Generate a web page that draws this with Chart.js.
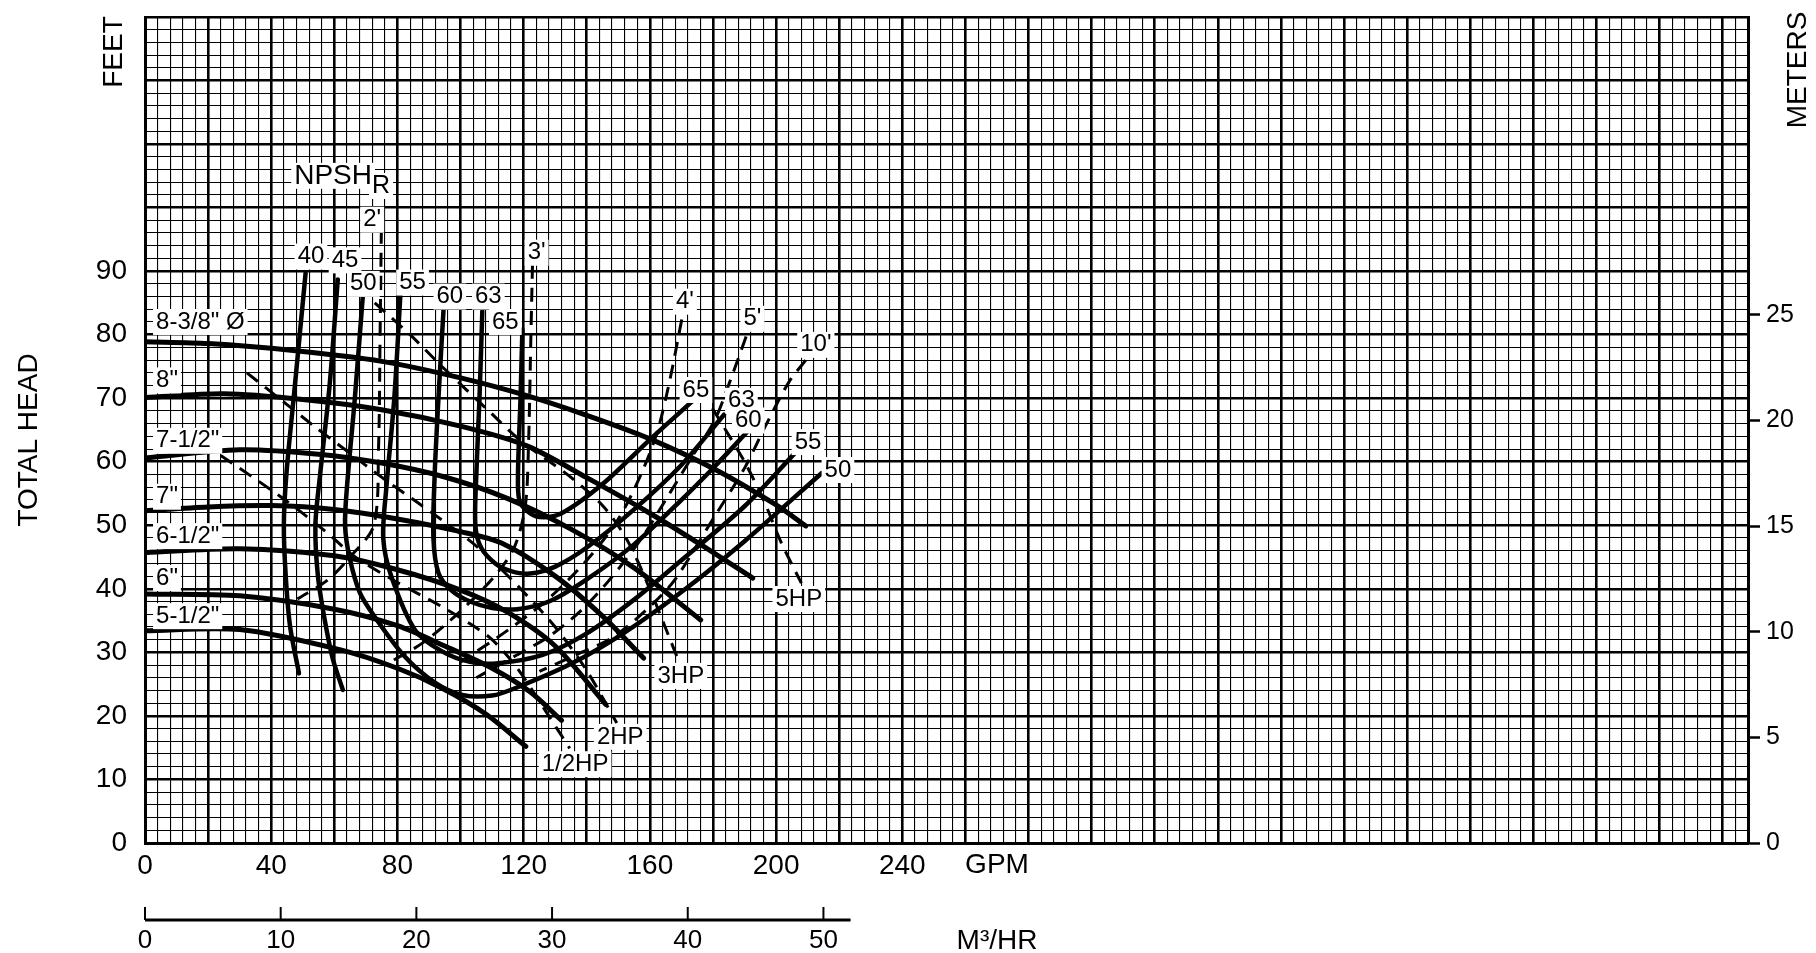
<!DOCTYPE html>
<html>
<head>
<meta charset="utf-8">
<title>Pump performance curves</title>
<script src="https://cdn.jsdelivr.net/npm/chart.js@4.4.1/dist/chart.umd.min.js"></script>
<style>
  html, body { margin: 0; padding: 0; background: #fff; }
  #wrap { width: 1816px; height: 953px; }
</style>
</head>
<body>
<div id="wrap"><canvas id="pumpChart" width="1816" height="953"></canvas></div>
<script>
// ---- axes ----
const gpmMax = 508;
const feetMax = 130;
const gpmLabels = [0, 40, 80, 120, 160, 200, 240];
const feetLabels = [0, 10, 20, 30, 40, 50, 60, 70, 80, 90];
const meterLabels = [0, 5, 10, 15, 20, 25];
const m3hrLabels = [0, 10, 20, 30, 40, 50];
const m3hrEnd = 52;
const meterMax = 39.1;        // meter scale as printed beside the feet grid
const GPM_PER_M3HR = 4.3;     // as printed on the sheet

// ---- impeller head curves [gpm, ft] ----
const head838 = [[0,78.9],[20,78.6],[47,77.5],[75,75.8],[100,73.2],[121,70.4],[140,67.3],[160,63.6],[181,58.7],[200,53.2],[209.4,49.9]];
const head800 = [[0,70.1],[25,70.7],[50,69.8],[75,68.2],[100,65.6],[121,62.5],[140,57.5],[160,51.9],[176,47],[192.6,41.7]];
const head750 = [[0,60.6],[30,61.9],[55,61.2],[75,59.8],[95,57.6],[115,54.2],[135,49.4],[155,43.3],[176.1,35.1]];
const head700 = [[0,52.3],[20,52.9],[40,53.1],[60,52.5],[80,51],[100,49],[113,47.2],[130,42],[145,35.7],[158,29.1]];
const head650 = [[0,45.7],[30,46.3],[60,45.2],[80,43],[100,39.8],[115,36.3],[130,31],[146,21.8]];
const head600 = [[0,39.2],[30,38.9],[60,36.8],[80,34.2],[95,31],[110,27.5],[122,23.8],[132,19.3]];
const head550 = [[0,33.4],[30,33.6],[62,30.4],[80,27.5],[94,24.4],[108,20.3],[120.7,15.2]];

// ---- efficiency contours (%) ----
const eff40 = [[50.9,89.7],[47.5,72],[44.8,58],[44,50],[44.6,42],[46,34],[48.8,26.7]];
const eff45 = [[61.1,88.7],[58.5,72],[55.5,58],[54,50],[54.8,42],[57,35],[59.5,29],[62.7,24.1]];
const eff50 = [[69.1,86.6],[66.5,70],[64,56],[63.4,50],[64.8,45],[68,39.5],[72.8,35.6],[82.4,29.3],[92,25.2],[100.5,23.3],[110,23.2],[117.5,24.4],[135,28.2],[151.6,33],[170,39.5],[190,47.5],[214.4,58.2]];
const eff55 = [[81,86.9],[79,70],[76.5,56],[75.5,48],[78.1,41.9],[85.6,33.5],[94,30.2],[103,28.5],[112,28.3],[126,29.6],[140,33],[155,38.3],[170,44.5],[190,53],[206.4,61.6]];
const eff60 = [[94.6,83.9],[93,70],[91.8,58],[91.4,48],[93,42.5],[97,39.8],[103,38],[110,37],[118,36.8],[128,38],[140,41.5],[155,47],[170,54],[181,59.5],[191,64.8]];
const eff63 = [[106.9,83.7],[106,70],[105,58],[104.7,50],[106.5,46.5],[111,44],[116,42.8],[122,42.4],[130,43.5],[140,46.5],[155,52.5],[170,59.5],[183.5,67.4]];
const eff65 = [[119.6,80.8],[119,70],[118.2,58],[118.6,54],[121,52.3],[125,51.3],[132,51.9],[145,56.5],[160,63.5],[173.4,69.5]];

// ---- NPSHR lines (ft) ----
const npsh2 = [[74.9,96.5],[74.5,80],[74,62],[72.5,50],[65,45],[57.9,41.4],[48.3,38.4]];
const npsh3 = [[122.8,91],[122.3,80],[121.5,62],[120.5,53],[117,46.5],[110.6,41.9],[100,36.5],[88,31.5],[76,28]];
const npsh4 = [[170.1,82.4],[166,72.1],[162.2,64.5],[156.9,57.7],[150,51],[140,44.5],[128,38.5],[115,33.5],[100,28.5]];
const npsh5 = [[190.5,79.7],[186,73.5],[180.5,66.5],[173,60.5],[165,54],[157,47.7],[147,41.3],[138,36.5],[128,32.5],[117.5,29.5],[105,26]];
const npsh10 = [[209.4,76],[204,72.5],[197,66],[190,59],[180,51],[168,41.5],[160,37.2],[148,32.3],[136,29.5],[125,27]];

// ---- horsepower lines ----
const hpHalf = [[24,61],[43,54.5],[57.3,49],[66.4,45.1],[80,41],[93,37.5],[103,34.5],[110,32],[118,27.5],[126,21.5],[134.6,14.9]];
const hp2 = [[32.3,74],[45,69],[53.6,65.6],[62.1,62.4],[76,57.2],[86.6,53.5],[102.6,47.7],[111,44],[120,39.5],[130,34],[139.9,27.2],[149.5,18.9]];
const hp3 = [[72.8,85],[84,80],[94.1,75],[110,67.5],[118.6,63.5],[134.6,57.7],[145.2,53],[153,47.5],[160.1,39.8],[168.6,29.3]];
const hp5 = [[176,71.5],[184,65],[190,60],[196,54],[201.7,47.2],[208,40.9]];

// ---- label text and where it sits (gpm, ft) ----
const impellerNames = ['8-3/8" Ø', '8"', '7-1/2"', '7"', '6-1/2"', '6"', '5-1/2"'];
const impellerNameAt = [[3.5,82],[3.5,72.8],[3.5,63.3],[3.5,54.5],[3.5,48.3],[3.5,41.7],[3.5,35.7]];
const effNames = ['40','45','50','55','60','63','65','65','63','60','55','50'];
const effNameAt = [[52.6,92.3],[63.4,91.7],[69.2,88],[84.8,88.2],[96.6,86],[108.8,86],[114.2,82],
                   [174.6,71.3],[189,69.6],[191.2,66.5],[210.1,63.1],[219.6,58.7]];
const npshNames = ["2'", "3'", "4'", "5'", "10'"];
const npshNameAt = [[72,98.1],[124.1,92.9],[171.1,85.2],[192.5,82.5],[212.6,78.4]];
const hpNames = ['5HP', '3HP', '2HP', '1/2HP'];
const hpNameAt = [[207.2,38.4],[169.8,26.3],[150.6,16.7],[136.3,12.4]];

const FONT = '"Liberation Sans", Arial, sans-serif';

function toPts(arr) {
    return arr.map(p => ({ x: p[0], y: p[1] }));
}

const datasets = [];
function addCurve(arr, width, dash) {
    datasets.push({
        data: toPts(arr),
        showLine: true,
        borderColor: '#000',
        borderWidth: width,
        borderDash: dash || [],
        borderCapStyle: dash ? 'butt' : 'round',
        pointRadius: 0,
        tension: 0.3,
        fill: false
    });
}

[npsh2, npsh3, npsh4, npsh5, npsh10].forEach(c => addCurve(c, 3, [14, 9]));
[hpHalf, hp2, hp3, hp5].forEach(c => addCurve(c, 3, [14, 9]));
[eff40, eff45, eff50, eff55, eff60, eff63, eff65].forEach(c => addCurve(c, 4.5));
[head838, head800, head750, head700, head650, head600, head550].forEach(c => addCurve(c, 5));

function whiteBox(ctx, text, px, py, align) {
    const w = ctx.measureText(text).width;
    const h = 22;
    const left = align === 'left' ? px : px - w / 2;
    ctx.fillStyle = '#fff';
    ctx.fillRect(left - 3, py - h / 2 - 2, w + 6, h + 4);
}

function boxedText(ctx, text, px, py, align) {
    whiteBox(ctx, text, px, py, align);
    ctx.fillStyle = '#000';
    ctx.textAlign = align;
    ctx.fillText(text, px, py);
}

// scales keep a fixed size so the grid sits where the printed sheet has it
function fixSize(prop, size) {
    return s => {
        s[prop] = size;
        s.paddingTop = 0; s.paddingBottom = 0; s.paddingLeft = 0; s.paddingRight = 0;
    };
}

const sheetText = {
    id: 'sheetText',
    beforeDraw(chart) {
        const ctx = chart.ctx;
        ctx.save();
        ctx.fillStyle = '#fff';
        ctx.fillRect(0, 0, chart.width, chart.height);
        ctx.restore();
    },
    afterDatasetsDraw(chart) {
        const { ctx, scales: { x, y } } = chart;
        const px = v => x.getPixelForValue(v);
        const py = v => y.getPixelForValue(v);
        ctx.save();
        ctx.font = '24px ' + FONT;
        ctx.textBaseline = 'middle';
        impellerNames.forEach((t, i) => boxedText(ctx, t, px(impellerNameAt[i][0]), py(impellerNameAt[i][1]), 'left'));
        effNames.forEach((t, i) => boxedText(ctx, t, px(effNameAt[i][0]), py(effNameAt[i][1]), 'center'));
        npshNames.forEach((t, i) => boxedText(ctx, t, px(npshNameAt[i][0]), py(npshNameAt[i][1]), 'center'));
        hpNames.forEach((t, i) => boxedText(ctx, t, px(hpNameAt[i][0]), py(hpNameAt[i][1]), 'center'));

        // NPSH with subscript R: both boxes first, then both texts
        ctx.font = '28px ' + FONT;
        whiteBox(ctx, 'NPSH', px(59.6), py(105), 'center');
        ctx.font = '25px ' + FONT;
        whiteBox(ctx, 'R', px(74.8), py(103.4), 'center');
        ctx.fillStyle = '#000';
        ctx.textAlign = 'center';
        ctx.fillText('R', px(74.8), py(103.4));
        ctx.font = '28px ' + FONT;
        ctx.fillText('NPSH', px(59.6), py(105));
        ctx.restore();
    },
    afterDraw(chart) {
        const { ctx, chartArea, scales: { x } } = chart;
        ctx.save();
        ctx.fillStyle = '#000';
        ctx.strokeStyle = '#000';
        ctx.textAlign = 'center';
        ctx.textBaseline = 'middle';

        // rotated titles
        ctx.font = '28px ' + FONT;
        [['TOTAL HEAD', 29, 440], ['FEET', 114, 52], ['METERS', 1798, 70]].forEach(t => {
            ctx.save();
            ctx.translate(t[1], t[2]);
            ctx.rotate(-Math.PI / 2);
            ctx.fillText(t[0], 0, 0);
            ctx.restore();
        });

        ctx.fillText('GPM', x.getPixelForValue(270), chartArea.bottom + 22);

        // secondary flow scale, m3/hr
        const lineY = chartArea.bottom + 77;
        ctx.lineWidth = 3;
        ctx.beginPath();
        ctx.moveTo(x.getPixelForValue(0), lineY);
        ctx.lineTo(x.getPixelForValue(m3hrEnd * GPM_PER_M3HR), lineY);
        ctx.stroke();
        ctx.lineWidth = 2;
        ctx.font = '26px ' + FONT;
        m3hrLabels.forEach(v => {
            const tx = x.getPixelForValue(v * GPM_PER_M3HR);
            ctx.beginPath();
            ctx.moveTo(tx, lineY);
            ctx.lineTo(tx, lineY - 13);
            ctx.stroke();
            ctx.fillText(String(v), tx, lineY + 21);
        });
        ctx.font = '28px ' + FONT;
        ctx.fillText('M³/HR', x.getPixelForValue(270), lineY + 21);
        ctx.restore();
    }
};

new Chart(document.getElementById('pumpChart').getContext('2d'), {
    type: 'scatter',
    data: { datasets: datasets },
    options: {
        responsive: false,
        animation: false,
        devicePixelRatio: 1,
        layout: { padding: { top: 17, left: 0, right: 0, bottom: 0 } },
        plugins: { legend: { display: false }, tooltip: { enabled: false } },
        scales: {
            x: {
                type: 'linear', position: 'bottom', min: 0, max: gpmMax,
                afterFit: fixSize('height', 110),
                border: { display: true, color: '#000', width: 3 },
                grid: {
                    color: '#000',
                    lineWidth: c => (c.tick && (c.tick.value % 20 === 0 || c.tick.value === gpmMax)) ? 2.6 : 1.1,
                    drawTicks: false
                },
                ticks: {
                    stepSize: 4, autoSkip: false, maxRotation: 0, maxTicksLimit: 500,
                    padding: 6, color: '#000', font: { family: FONT, size: 28 },
                    callback: v => gpmLabels.includes(v) ? String(v) : ''
                }
            },
            y: {
                type: 'linear', position: 'left', min: 0, max: feetMax,
                afterFit: fixSize('width', 145),
                border: { display: true, color: '#000', width: 3 },
                grid: {
                    color: '#000',
                    lineWidth: c => (c.tick && c.tick.value % 10 === 0) ? 2.6 : 1.1,
                    drawTicks: false
                },
                ticks: {
                    stepSize: 2, autoSkip: false, maxTicksLimit: 500,
                    padding: 18, color: '#000', font: { family: FONT, size: 28 },
                    callback: v => feetLabels.includes(v) ? String(v) : ''
                }
            },
            y2: {
                type: 'linear', position: 'right', min: 0, max: meterMax,
                afterFit: fixSize('width', 68),
                border: { display: true, color: '#000', width: 3 },
                grid: {
                    drawOnChartArea: false, drawTicks: true, tickLength: 12, tickWidth: 2.5,
                    tickColor: c => (c.tick && meterLabels.includes(c.tick.value)) ? '#000' : 'rgba(0,0,0,0)'
                },
                ticks: {
                    stepSize: 5, autoSkip: false, padding: 6, color: '#000',
                    font: { family: FONT, size: 25 },
                    callback: v => meterLabels.includes(v) ? String(v) : ''
                }
            }
        }
    },
    plugins: [sheetText]
});
</script>
</body>
</html>
